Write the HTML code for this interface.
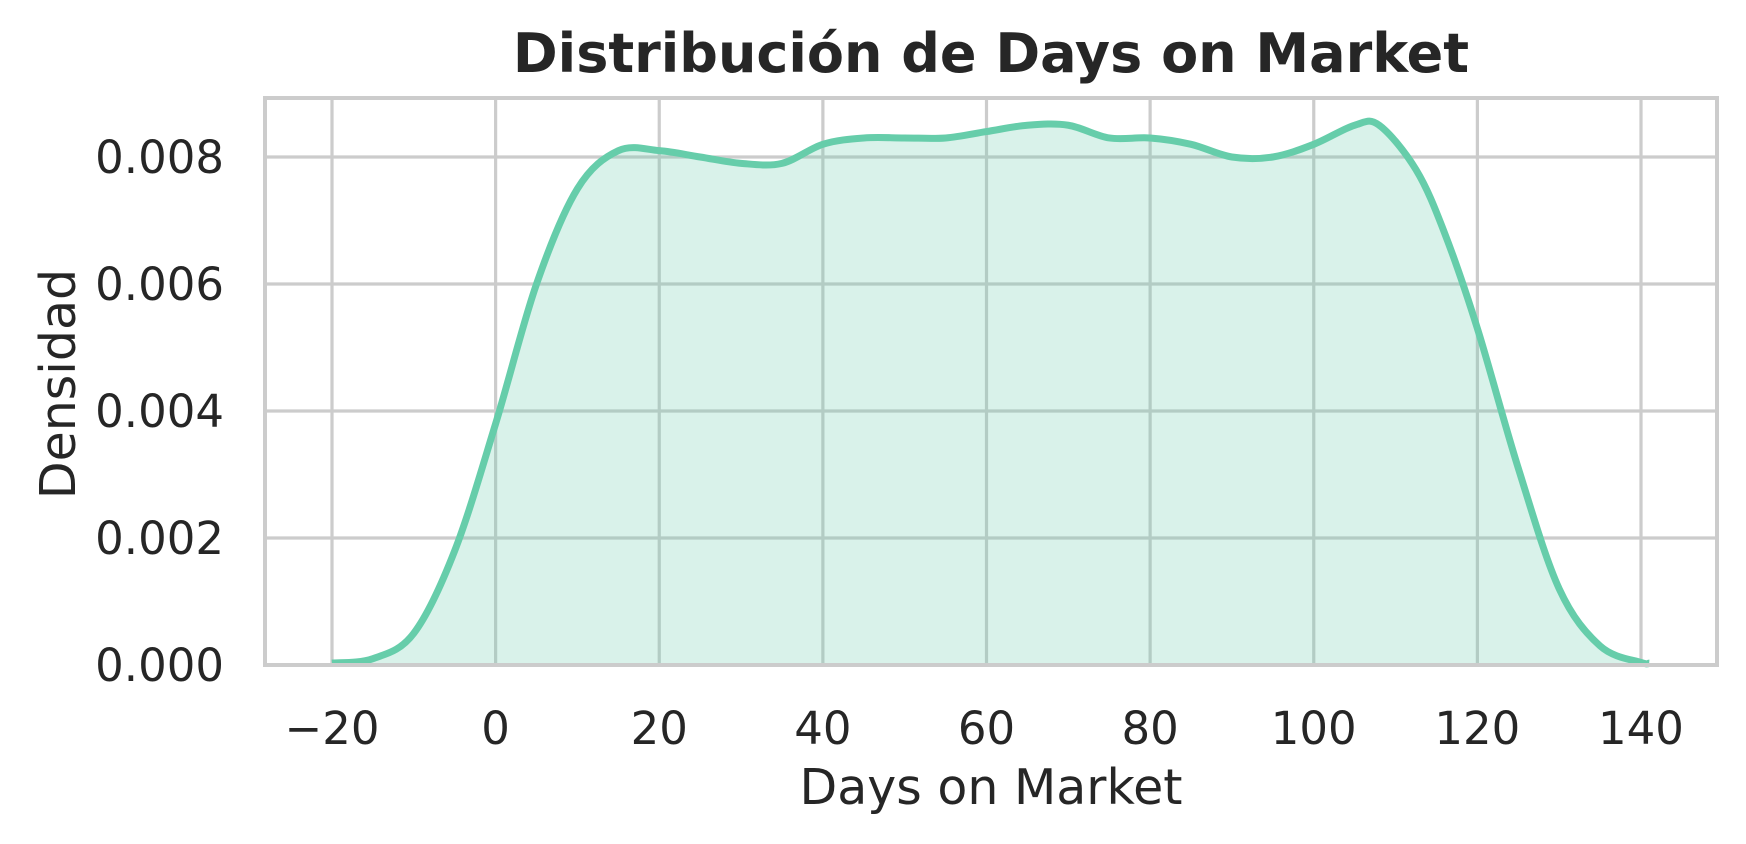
<!DOCTYPE html>
<html><head><meta charset="utf-8"><style>
html,body{margin:0;padding:0;background:#fff}
svg{display:block}
text{font-family:"DejaVu Sans","Liberation Sans",sans-serif;fill:#262626}
</style></head><body>
<svg id="chart" width="1746" height="844" viewBox="0 0 1746 844" xmlns="http://www.w3.org/2000/svg">
<text x="991" y="72" font-size="54" font-weight="bold" text-anchor="middle">Distribución de Days on Market</text>
<g id="grid"></g>
<path id="area" fill="#66cdaa" fill-opacity="0.25" stroke="none"/>
<path id="line" fill="none" stroke="#66cdaa" stroke-width="7" stroke-linejoin="round"/>
<rect x="265" y="98" width="1452" height="567" fill="none" stroke="#cccccc" stroke-width="4"/>
<g id="ticks"></g>
<text x="991" y="804" font-size="49" text-anchor="middle">Days on Market</text>
<text transform="translate(75,384) rotate(-90)" font-size="49" text-anchor="middle">Densidad</text>
</svg>
<script>
const xs = [-20,-15,-10,-5,0,5,10,15,20,25,30,35,40,45,50,55,60,65,70,75,80,85,90,95,100,105,108,112.5,116,120,125,130,135,140,141];
const ys = [0.00003,0.0001,0.0005,0.0018,0.0038,0.0060,0.0075,0.0081,0.0081,0.0080,0.0079,0.0079,0.0082,0.0083,0.0083,0.0083,0.0084,0.0085,0.0085,0.0083,0.0083,0.0082,0.0080,0.0080,0.0082,0.0085,0.0085,0.0078,0.0068,0.0053,0.0031,0.0012,0.0003,0.00004,0.00003];
const xTicks = [-20,0,20,40,60,80,100,120,140];
const yTicks = [0,0.002,0.004,0.006,0.008];
const X = v => 332 + (v + 20) * (1641 - 332) / 160;
const Y = v => 665 - v * (665 - 157) / 0.008;
const NS = 'http://www.w3.org/2000/svg';
const grid = document.getElementById('grid'), ticks = document.getElementById('ticks');
xTicks.forEach(t => {
  const l = document.createElementNS(NS, 'line');
  
  
  l.setAttribute('x1', X(t)); l.setAttribute('x2', X(t)); l.setAttribute('y1', 98); l.setAttribute('y2', 665);
  l.setAttribute('stroke', '#cccccc'); l.setAttribute('stroke-width', 3.2);
  grid.appendChild(l);
  const tx = document.createElementNS(NS, 'text');
  
  
  tx.setAttribute('x', X(t)); tx.setAttribute('y', 744); tx.setAttribute('font-size', 45); tx.setAttribute('text-anchor', 'middle');
  tx.textContent = t < 0 ? '\u2212' + Math.abs(t) : String(t);
  ticks.appendChild(tx);
});
yTicks.forEach(t => {
  const l = document.createElementNS(NS, 'line');
  
  
  l.setAttribute('x1', 265); l.setAttribute('x2', 1717); l.setAttribute('y1', Y(t)); l.setAttribute('y2', Y(t));
  l.setAttribute('stroke', '#cccccc'); l.setAttribute('stroke-width', 3.2);
  grid.appendChild(l);
  const tx = document.createElementNS(NS, 'text');
  
  
  tx.setAttribute('x', 224); tx.setAttribute('y', Y(t) + 16); tx.setAttribute('font-size', 45); tx.setAttribute('text-anchor', 'end');
  tx.textContent = t.toFixed(3);
  ticks.appendChild(tx);
});
const pts = xs.map((x, i) => [X(x), Y(ys[i])]);
let d = 'M' + pts[0][0] + ',' + pts[0][1];
for (let i = 0; i < pts.length - 1; i++) {
  const p0 = pts[Math.max(0, i - 1)], p1 = pts[i], p2 = pts[i + 1], p3 = pts[Math.min(pts.length - 1, i + 2)];
  const c1 = [p1[0] + (p2[0] - p0[0]) / 6, p1[1] + (p2[1] - p0[1]) / 6];
  const c2 = [p2[0] - (p3[0] - p1[0]) / 6, p2[1] - (p3[1] - p1[1]) / 6];
  d += ` C${c1[0]},${c1[1]} ${c2[0]},${c2[1]} ${p2[0]},${p2[1]}`;
}
document.getElementById('line').setAttribute('d', d);
document.getElementById('area').setAttribute('d', d + ` L${pts[pts.length-1][0]},${Y(0)} L${pts[0][0]},${Y(0)} Z`);
</script>
</body></html>
